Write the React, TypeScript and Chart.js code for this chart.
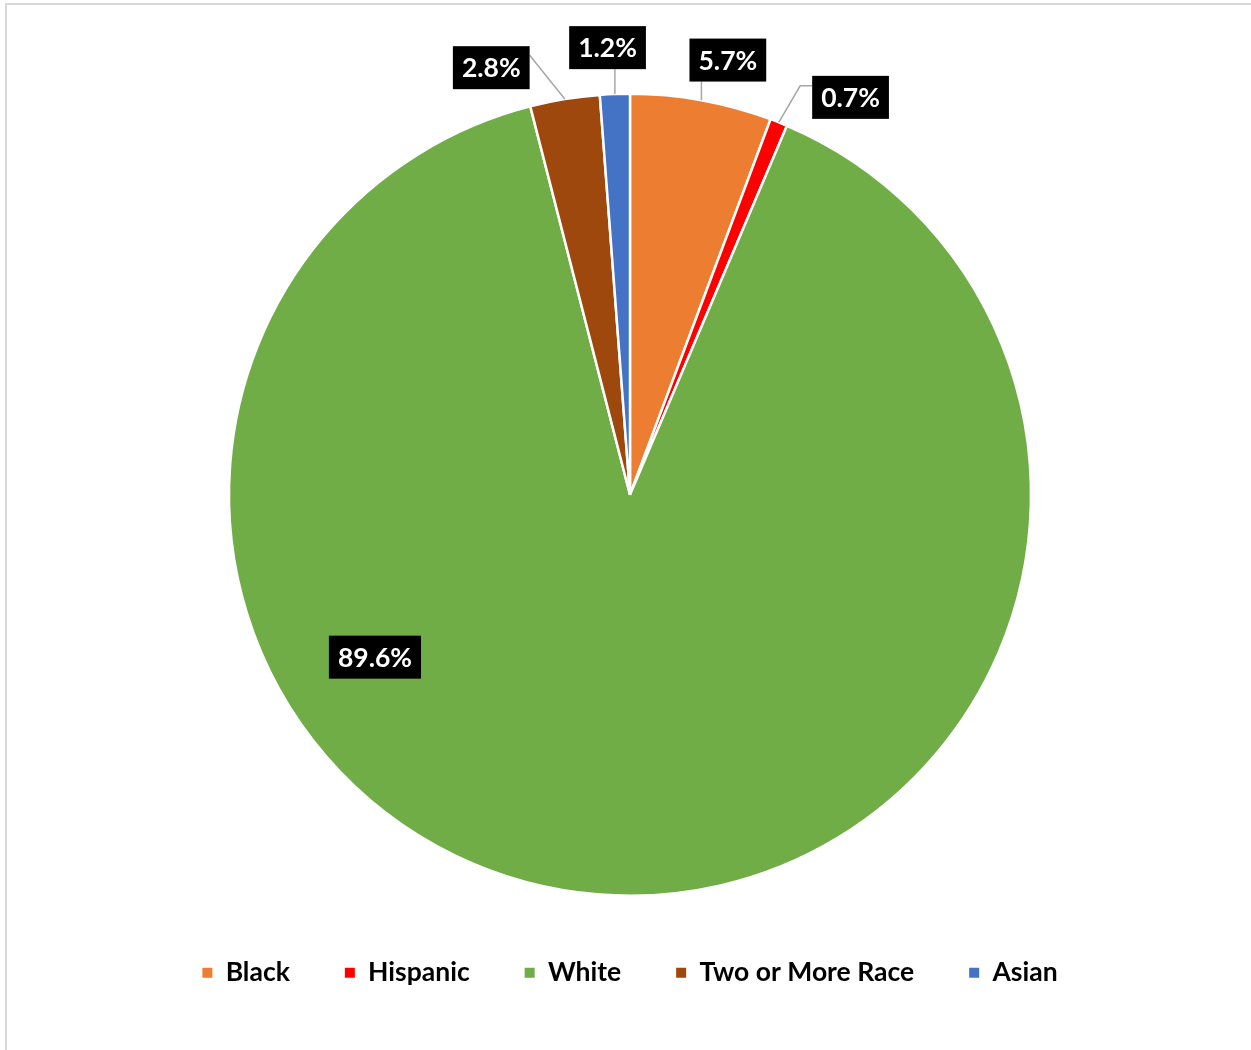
import React, { useEffect, useRef } from "react";
import { Chart, registerables } from "chart.js";

Chart.register(...registerables);

const categories = ["Black", "Hispanic", "White", "Two or More Race", "Asian"];
const shares = [5.7, 0.7, 89.6, 2.8, 1.2];
const valueLabels = ["5.7%", "0.7%", "89.6%", "2.8%", "1.2%"];
const sliceColors = ["#ED7D31", "#FF0000", "#70AD47", "#9E480E", "#4472C4"];

// label box placement relative to pie centre, in units of the outer radius
const labelPlacement = [
  { dx: 0.244, dy: -1.084, leader: "vertical" },
  { dx: 0.55, dy: -0.991, leader: "elbowLeft" },
  { dx: -0.636, dy: 0.405, leader: "none" },
  { dx: -0.346, dy: -1.065, leader: "toRight" },
  { dx: -0.056, dy: -1.115, leader: "vertical" },
];

const labelPlugin = {
  id: "boxLabels",
  afterDatasetsDraw(chart: any) {
    const meta = chart.getDatasetMeta(0);
    const ctx = chart.ctx as CanvasRenderingContext2D;
    ctx.save();
    ctx.font = "bold 26.5px Lato";
    meta.data.forEach((arc: any, i: number) => {
      const { x, y, outerRadius, startAngle, endAngle } = arc.getProps(
        ["x", "y", "outerRadius", "startAngle", "endAngle"],
        true
      );
      const p = labelPlacement[i];
      const cx = x + p.dx * outerRadius;
      const cy = y + p.dy * outerRadius;
      const tw = ctx.measureText(valueLabels[i]).width;
      const w = tw + 18;
      const h = 43;
      const left = cx - w / 2;
      const top = cy - h / 2;
      const mid = (startAngle + endAngle) / 2;
      const ax = x + Math.cos(mid) * outerRadius;
      const ay = y + Math.sin(mid) * outerRadius;
      ctx.strokeStyle = "#A6A6A6";
      ctx.lineWidth = 1.5;
      if (p.leader !== "none") {
        ctx.beginPath();
        ctx.moveTo(ax, ay);
        if (p.leader === "vertical") {
          ctx.lineTo(ax, top + h);
        } else if (p.leader === "elbowLeft") {
          ctx.lineTo(left - 12, top + 10);
          ctx.lineTo(left, top + 10);
        } else if (p.leader === "toRight") {
          ctx.lineTo(left + w, top + 9);
        }
        ctx.stroke();
      }
      ctx.fillStyle = "#000";
      ctx.fillRect(left, top, w, h);
      ctx.fillStyle = "#fff";
      ctx.textAlign = "center";
      ctx.textBaseline = "middle";
      ctx.fillText(valueLabels[i], cx, cy + 1);
    });
    ctx.restore();
  },
};

export default function App() {
  const canvasRef = useRef<HTMLCanvasElement | null>(null);

  useEffect(() => {
    const canvas = canvasRef.current;
    if (!canvas) return;
    const chart = new Chart(canvas, {
      type: "pie",
      data: {
        labels: categories,
        datasets: [
          {
            data: shares,
            backgroundColor: sliceColors,
            borderColor: "#ffffff",
            borderWidth: 2.5,
          },
        ],
      },
      options: {
        responsive: false,
        animation: false,
        radius: 401,
        layout: { padding: { top: 85, bottom: 54, left: 9, right: 0 } },
        plugins: {
          legend: {
            position: "bottom",
            labels: {
              boxWidth: 10,
              boxHeight: 10,
              padding: 55,
              color: "#000",
              font: { family: "Lato", size: 26.5, weight: "bold" },
              generateLabels: () =>
                categories.map((c, i) => ({
                  text: c,
                  fillStyle: sliceColors[i],
                  strokeStyle: sliceColors[i],
                  lineWidth: 0,
                  hidden: false,
                  index: i,
                  fontColor: "#000",
                })),
            },
          },
          tooltip: { enabled: false },
        },
      },
      plugins: [labelPlugin],
    } as any);
    return () => chart.destroy();
  }, []);

  return (
    <div
      style={{
        position: "fixed",
        left: 0,
        top: 0,
        width: 1251,
        height: 1050,
        overflow: "hidden",
        background: "#fff",
      }}
    >
      <div
        style={{
          position: "absolute",
          left: 5,
          top: 3,
          width: 1300,
          height: 1100,
          border: "2px solid #D9D9D9",
          boxSizing: "border-box",
        }}
      />
      <canvas
        ref={canvasRef}
        width={1251}
        height={1050}
        style={{ position: "absolute", left: 0, top: 0, width: 1251, height: 1050 }}
      />
    </div>
  );
}
